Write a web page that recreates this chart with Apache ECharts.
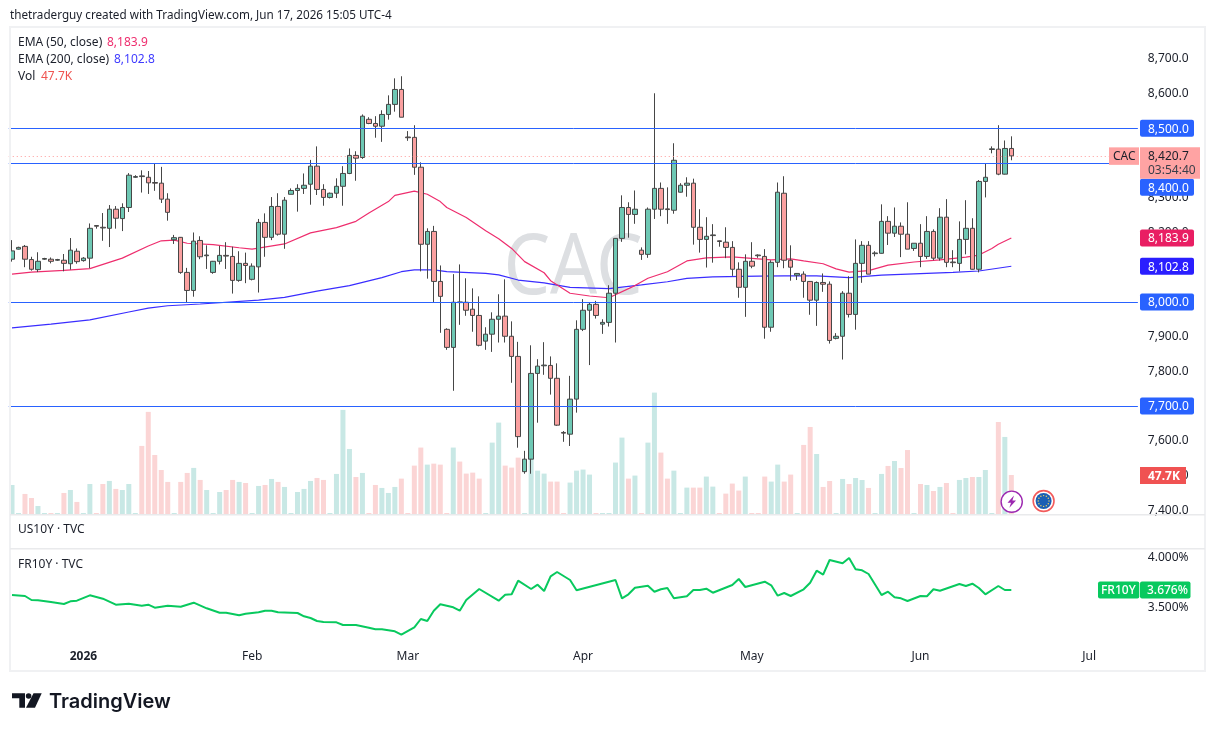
<!DOCTYPE html>
<html>
<head>
<meta charset="utf-8">
<title>CAC daily</title>
<style>html,body{margin:0;padding:0;background:#fff}#chart{width:1215px;height:731px}</style>
<script src="https://cdn.jsdelivr.net/npm/echarts@6/dist/echarts.min.js"></script>
</head>
<body>
<div id="chart"></div>
<script>
// CAC session candles, oldest first
const opens = [8123,8152,8160,8122,8093,8123,8123,8120,8120,8110,8146,8119,8126,8220,8215,8212,8267,8240,8272,8359,8363,8359,8344,8342,8296,8179,8186,8085,8033,8177,8133,8085,8117,8134,8131,8062,8111,8065,8101,8229,8186,8275,8195,8310,8321,8327,8339,8391,8324,8301,8313,8333,8370,8422,8416,8526,8514,8506,8540,8569,8612,8475,8474,8388,8166,8203,8059,7921,7869,8000,7999,7979,7961,7887,7907,7950,7959,7901,7843,7511,7547,7794,7816,7817,7780,7624,7619,7720,7921,7976,7993,7936,7941,8025,8183,8272,8252,8149,8137,8267,8327,8268,8264,8316,8336,8342,8215,8180,8191,8176,8172,8157,8094,8042,8117,8135,8131,7927,8114,8313,8120,8077,8080,8059,8005,8056,8051,7895,7901,8025,7964,8111,8163,8139,8140,8232,8198,8218,8195,8154,8169,8131,8203,8126,8244,8115,8111,8180,8212,8094,8347,8439,8440,8368,8442];
const closes = [8147,8157,8123,8094,8117,8125,8117,8122,8111,8149,8116,8126,8212,8218,8213,8267,8241,8272,8365,8361,8361,8343,8342,8296,8258,8185,8085,8033,8175,8130,8135,8117,8134,8132,8062,8111,8105,8103,8229,8186,8275,8195,8293,8321,8327,8336,8391,8324,8301,8313,8333,8370,8422,8414,8535,8514,8506,8540,8569,8612,8532,8473,8388,8166,8203,8059,8016,7869,7999,7998,7976,7961,7875,7907,7950,7959,7901,7843,7612,7547,7794,7815,7818,7780,7645,7622,7720,7921,7976,7993,7961,7941,8025,8183,8272,8252,8267,8137,8267,8327,8267,8266,8408,8336,8342,8215,8180,8189,8193,8174,8157,8094,8042,8117,8103,8133,7927,8114,8316,8120,8100,8082,8059,8005,8056,8051,7889,7901,8025,7964,8111,8163,8080,8141,8232,8198,8218,8195,8152,8169,8131,8203,8126,8244,8114,8113,8180,8212,8094,8347,8359,8441,8368,8442,8420.7];
const lows   = [8116,8151,8100,8090,8086,8121,8111,8118,8088,8093,8110,8116,8097,8211,8176,8158,8211,8204,8259,8357,8315,8311,8320,8285,8234,8167,8081,7999,8015,8123,8095,8081,8108,8095,8024,8058,8054,8062,8027,8130,8178,8191,8153,8310,8260,8311,8280,8308,8277,8298,8299,8277,8368,8349,8412,8512,8473,8461,8525,8548,8532,8464,8366,8088,8067,7999,7911,7862,7744,7934,7960,7914,7872,7862,7856,7883,7883,7767,7580,7505,7505,7652,7790,7733,7643,7597,7585,7681,7916,7818,7952,7908,7929,7883,8173,8185,8225,8121,8127,8239,8247,8225,8254,8315,8303,8165,8142,8099,8113,8159,8126,8075,8012,7957,8097,8127,7894,7914,8100,8097,8061,8063,8012,7963,7931,8029,7880,7892,7834,7955,7920,8055,8080,8131,8139,8164,8187,8129,8152,8147,8100,8124,8120,8119,8100,8100,8088,8137,8093,8085,8301,8428,8365,8367,8408];
const highs  = [8178,8159,8164,8130,8143,8127,8128,8124,8138,8184,8154,8129,8226,8221,8256,8279,8276,8284,8371,8365,8379,8377,8398,8389,8313,8193,8187,8098,8200,8189,8163,8118,8161,8172,8159,8146,8142,8111,8239,8255,8302,8313,8302,8327,8339,8370,8409,8448,8339,8315,8356,8391,8442,8434,8540,8532,8535,8552,8595,8644,8650,8492,8509,8402,8212,8219,8105,7924,8080,8108,8068,8039,8016,7927,7970,8022,8065,7944,7885,7571,7875,7835,7884,7843,7823,7628,7787,7947,8008,7998,8003,7950,8048,8184,8307,8287,8321,8157,8272,8601,8344,8330,8457,8342,8359,8355,8267,8244,8224,8177,8215,8175,8114,8137,8172,8137,8152,8120,8344,8362,8163,8083,8088,8060,8059,8082,8059,7910,8031,8074,8180,8175,8175,8146,8281,8247,8272,8229,8287,8169,8224,8247,8209,8270,8296,8149,8232,8293,8241,8351,8399,8448,8509,8465,8477];
// Session volume, thousands
const volumes = [35.6,1.6,24.7,19.8,10.1,1.6,1.6,1.6,25.9,29.5,15,1.6,36.8,1.6,36.8,40.5,30.8,29.5,36.8,1.6,83,124.3,72,53.8,39.3,1.6,39.3,50.2,56.3,41.7,29.5,1.6,27.1,29.5,41.7,39.3,38,1.6,34.4,35.6,42.9,39.3,33.2,1.6,27.1,30.8,40.5,44.1,41.7,1.6,49,126.7,79.3,45.3,50.2,1.6,35.6,32,25.9,33.2,43.3,1.6,59.1,81,60.3,61.5,60.3,1.6,81,64,49.4,50.6,43.3,1.6,87,111.3,59.1,56.7,68.8,1.6,82.2,53,49.4,39.7,39.7,1.6,38.5,53,54.3,48.2,1.6,1.6,1.6,62.8,93.1,43.3,47,1.6,87,147.7,74.9,43.3,53,1.6,32.4,32.4,32.4,45.8,33.6,1.6,25.1,37.3,28.8,45.8,1.6,1.6,45.8,39.7,60.3,39.7,48.2,1.6,84.2,106,73.2,33.2,40.4,1.6,42.9,36.8,44.1,41.6,32,1.6,49,58.7,64.7,56.2,78,1.6,36.8,35.6,28.3,33.2,38,1.6,41.7,44.1,45.3,45.3,53.8,1.6,112,93.9,47.7];

// Moving averages, read at the bar positions listed in the *At arrays
const ema50At   = [0,3,8,12,17,21,23,25,27,31,35,37,42,46,50,53,55,58,59,62,64,66,67,70,73,75,77,79,82,83,86,89,92,96,98,101,104,107,111,115,117,120,122,125,127,129,132,135,139,143,147,149,151,152,154];
const ema50     = [8080,8086,8091,8096,8126,8161,8176,8178,8169,8165,8156,8152,8167,8199,8214,8232,8256,8289,8307,8319,8310,8289,8272,8243,8205,8182,8154,8116,8084,8061,8025,8017,8012,8047,8068,8087,8118,8127,8130,8124,8121,8124,8118,8110,8095,8086,8090,8106,8115,8121,8129,8135,8154,8166,8183.9];
const ema200At  = [0,6,12,18,21,24,29,38,42,47,52,57,60,62,65,67,73,75,78,82,86,92,97,101,104,108,115,119,124,129,134,139,145,149,154];
const ema200    = [7925,7936,7948,7971,7982,7989,7994,8005,8013,8031,8047,8070,8087,8092,8092,8087,8082,8078,8063,8055,8042,8038,8049,8058,8068,8072,8074,8075,8075,8070,8077,8081,8085,8089,8102.8];

// French 10-year yield, percent
const fr10yAt = [0,2,3,4,6,8,9,10,12,14,16,18,20,21,22,24,26,28,30,32,33,35,36,38,39,40,41,44,45,46,47,48,50,51,53,55,56,57,59,60,62,63,64,65,66,68,69,70,72,75,76,77,78,80,81,82,83,84,86,87,93,94,95,96,98,99,100,101,102,104,105,106,107,108,111,112,113,116,117,118,119,120,122,123,124,125,126,128,129,130,131,132,134,135,136,137,138,140,141,142,143,146,147,148,149,150,152,153,154];
const fr10y   = [3.625,3.615,3.575,3.572,3.555,3.535,3.562,3.568,3.622,3.588,3.528,3.538,3.518,3.528,3.498,3.518,3.508,3.548,3.492,3.448,3.448,3.422,3.438,3.452,3.468,3.468,3.452,3.445,3.412,3.395,3.365,3.355,3.352,3.325,3.325,3.298,3.282,3.282,3.262,3.228,3.302,3.385,3.365,3.468,3.532,3.502,3.468,3.575,3.685,3.568,3.628,3.632,3.768,3.685,3.728,3.665,3.812,3.855,3.775,3.672,3.775,3.592,3.632,3.698,3.718,3.658,3.682,3.695,3.592,3.612,3.675,3.675,3.688,3.648,3.725,3.785,3.705,3.758,3.722,3.618,3.645,3.615,3.682,3.748,3.868,3.828,3.975,3.942,3.995,3.882,3.872,3.835,3.625,3.658,3.602,3.592,3.565,3.615,3.612,3.682,3.668,3.735,3.715,3.738,3.695,3.632,3.715,3.675,3.676];

// Horizontal levels and the time axis
const levels = [8500, 8400, 8000, 7700];
const lastPrice = 8420.7;
const ema50Last = 8183.9;
const ema200Last = 8102.8;
const timeLabels = ['2026','Feb','Mar','Apr','May','Jun','Jul'];
const timeAt = [11,37,61,88,114,140,166];
const slotCount = 174;

const FONT = '"Noto Sans", Roboto, sans-serif';
const INK = '#1b1f2a';
const BLUE = '#2962FF';
const price = v => v.toLocaleString('en-US', {minimumFractionDigits: 1, maximumFractionDigits: 1});

const slots = Array.from({length: slotCount}, (_, i) => String(i));
const plotLeft = 8.76, plotWidth = 1129.1;
const baseX = {type: 'category', data: slots, boundaryGap: true, axisLine: {show: false}, axisTick: {show: false}, axisLabel: {show: false}, splitLine: {show: false}};

const chart = echarts.init(document.getElementById('chart'), null, {renderer: 'canvas'});

chart.setOption({
  animation: false,
  backgroundColor: '#ffffff',
  textStyle: {fontFamily: FONT},
  grid: [
    {left: plotLeft, width: plotWidth, top: 58.9, height: 451.3},
    {left: plotLeft, width: plotWidth, top: 380, height: 134.3},
    {left: plotLeft, width: plotWidth, top: 557.5, height: 100},
    {left: plotLeft, width: plotWidth, top: 640, height: 10}
  ],
  xAxis: [
    Object.assign({gridIndex: 0}, baseX),
    Object.assign({gridIndex: 1}, baseX),
    Object.assign({gridIndex: 2}, baseX),
    Object.assign({}, baseX, {
      gridIndex: 3,
      axisLabel: {
        show: true, margin: 1, fontSize: 12, color: INK, fontFamily: FONT, hideOverlap: false,
        interval: i => timeAt.includes(i),
        formatter: (v, i) => {
          const k = timeAt.indexOf(i);
          if (k < 0) return '';
          return timeLabels[k] === '2026' ? '{year|2026}' : timeLabels[k];
        },
        rich: {year: {fontWeight: 'bold', fontSize: 12, color: INK, fontFamily: FONT}}
      }
    })
  ],
  yAxis: [
    {
      gridIndex: 0, position: 'right', min: 7400, max: 8700, interval: 100,
      axisLine: {show: false}, axisTick: {show: false}, splitLine: {show: false},
      axisLabel: {margin: 10, fontSize: 12, color: INK, fontFamily: FONT, formatter: v => price(v)}
    },
    {gridIndex: 1, position: 'right', min: 0, max: 163, show: false, splitLine: {show: false}},
    {
      gridIndex: 2, position: 'right', min: 3, max: 4, interval: 0.5,
      axisLine: {show: false}, axisTick: {show: false}, splitLine: {show: false},
      axisLabel: {margin: 10, fontSize: 12, color: INK, fontFamily: FONT, formatter: v => v === 3 ? '' : v.toFixed(3) + '%'}
    },
    {gridIndex: 3, show: false}
  ],
  series: [
    {
      name: 'Vol', type: 'bar', xAxisIndex: 1, yAxisIndex: 1, barWidth: 5, z: 1,
      data: volumes.map((v, i) => ({
        value: v,
        itemStyle: {color: closes[i] >= opens[i] ? '#C8E8E5' : '#FBD5D5'}
      }))
    },
    {
      name: 'Levels', type: 'line', xAxisIndex: 0, yAxisIndex: 0, z: 2, symbol: 'none',
      data: [[0, lastPrice]], lineStyle: {opacity: 0},
      markLine: {
        silent: true, symbol: 'none', label: {show: false}, animation: false,
        data: levels.map(v => ({yAxis: v, lineStyle: {color: BLUE, width: 1, type: 'solid'}}))
          .concat([{yAxis: lastPrice, lineStyle: {color: '#FF9A9A', width: 1, type: [1, 3]}}])
      }
    },
    {
      name: 'EMA 200', type: 'line', xAxisIndex: 0, yAxisIndex: 0, z: 2, symbol: 'none',
      lineStyle: {color: '#3A2DFF', width: 1.2},
      data: ema200At.map((x, i) => [x, ema200[i]])
    },
    {
      name: 'EMA 50', type: 'line', xAxisIndex: 0, yAxisIndex: 0, z: 2, symbol: 'none',
      lineStyle: {color: '#EE2E6E', width: 1.2},
      data: ema50At.map((x, i) => [x, ema50[i]])
    },
    {
      name: 'CAC', type: 'candlestick', xAxisIndex: 0, yAxisIndex: 0, z: 3, barWidth: 5,
      itemStyle: {color: '#6EC8B4', color0: '#FAA0A0', borderColor: '#464646', borderColor0: '#464646', borderWidth: 1},
      data: opens.map((o, i) => [o, closes[i], lows[i], highs[i]])
    },
    {
      name: 'FR10Y', type: 'line', xAxisIndex: 2, yAxisIndex: 2, z: 3, symbol: 'none',
      lineStyle: {color: '#08C95E', width: 2},
      data: fr10yAt.map((x, i) => [x, fr10y[i]])
    }
  ]
});

// Flat text helper for the overlay layer
function label(x, y, text, fill, extra) {
  return {
    type: 'text', x, y: y + 0.5, z: 120,
    style: Object.assign({text, fill, font: '12px ' + FONT, verticalAlign: 'middle', align: 'left'}, extra || {})
  };
}
function box(x, y, w, h, fill, z, r) {
  return {type: 'rect', z: z || 110, shape: {x, y, width: w, height: h, r: r || 0}, style: {fill}};
}
// Value tag on the price scale; tags that would collide sit at a shifted height
function priceTag(value, fill, fg, shiftedY) {
  const y = shiftedY !== undefined ? shiftedY : chart.convertToPixel({yAxisIndex: 0}, value);
  return [box(1140, y - 8.5, 54, 17, fill, 110, 2), label(1148, y + 0.5, price(value), fg)];
}

const yLast = chart.convertToPixel({yAxisIndex: 0}, lastPrice);
const yFr = chart.convertToPixel({yAxisIndex: 2}, fr10y[fr10y.length - 1]);
const frameColor = '#F0F1F3';
const elements = [
  // Large symbol name behind the candles
  {type: 'text', x: 573, y: 270, z: -10, scaleX: 0.88, originX: 0, originY: 0,
   style: {text: 'CAC', fill: '#DDDFE2', font: '84px ' + FONT, align: 'center', verticalAlign: 'middle'}},

  // Pane frame and separators
  box(9, 26, 1197, 2, frameColor), box(9, 26, 2, 646, frameColor),
  box(1204, 26, 2, 646, frameColor), box(9, 670, 1197, 2, frameColor),
  box(10, 514, 1195, 1.5, '#E9EAEC'), box(10, 548, 1195, 1.5, '#E9EAEC'),
  // Tidy strip right of the plot so levels stop at the scale
  box(1138.8, 28, 1.2, 486, '#ffffff', 105),

  // Header and pane legends
  label(10, 15, 'thetraderguy created with TradingView.com, Jun 17, 2026 15:05 UTC-4', INK, {font: '11.7px ' + FONT}),
  label(18, 42, 'EMA (50, close)', INK), label(107, 42, price(ema50Last), '#EE2E6E'),
  label(18, 59, 'EMA (200, close)', INK), label(114, 59, price(ema200Last), '#3F3BFF'),
  label(18, 76, 'Vol', INK), label(41, 76, volumes[volumes.length - 1] + 'K', '#EF5350'),
  label(18, 529, 'US10Y \u00b7 TVC', INK),
  label(18, 564, 'FR10Y \u00b7 TVC', INK),

  // Price scale tags
  ...priceTag(levels[0], BLUE, '#ffffff'),
  ...priceTag(levels[1], BLUE, '#ffffff', 187.3),
  ...priceTag(levels[2], BLUE, '#ffffff'),
  ...priceTag(levels[3], BLUE, '#ffffff'),
  ...priceTag(ema50Last, '#E91E63', '#ffffff'),
  ...priceTag(ema200Last, '#2A1EFF', '#ffffff'),

  // Symbol tag with last price and countdown
  box(1109, yLast - 8.5, 30, 17.5, '#FFA3A3'), label(1113, yLast + 0.5, 'CAC', INK),
  box(1140, yLast - 8.5, 60, 31.5, '#FFA3A3', 112), label(1148, yLast + 0.5, price(lastPrice), INK),
  label(1148, yLast + 14.5, '03:54:40', '#3a3f4a'),

  // Volume tag
  box(1140, 467, 46, 17, '#F05252'),
  label(1148, 476, volumes[volumes.length - 1] + 'K', '#ffffff', {font: 'bold 12px ' + FONT}),

  // Yield tag
  box(1098, yFr - 8.5, 41.3, 17, '#08C95E', 110, 2), label(1101, yFr + 0.5, 'FR10Y', '#ffffff', {font: '500 12px ' + FONT}),
  box(1140, yFr - 8.5, 50.5, 17, '#08C95E', 110, 2), label(1147, yFr + 0.5, fr10y[fr10y.length - 1].toFixed(3) + '%', '#ffffff', {font: '500 12px ' + FONT}),

  // Event markers on the time base
  {type: 'circle', z: 115, shape: {cx: 1011.7, cy: 501.7, r: 10.6}, style: {fill: '#fff', stroke: '#9C27B0', lineWidth: 1.4}},
  {type: 'polygon', z: 116, shape: {points: [[1014, 495.5], [1007.5, 502.8], [1011, 502.8], [1009.4, 507.8], [1016, 500.4], [1012.4, 500.4]]}, style: {fill: '#9C27B0'}},
  {type: 'circle', z: 115, shape: {cx: 1043.6, cy: 501, r: 10.4}, style: {fill: '#fff', stroke: '#F25B5B', lineWidth: 1.6}},
  {type: 'circle', z: 116, shape: {cx: 1043.6, cy: 501, r: 8}, style: {fill: '#1A5FB4'}},
  ...Array.from({length: 12}, (_, k) => ({
    type: 'circle', z: 117,
    shape: {cx: 1043.6 + 5.4 * Math.cos(k * Math.PI / 6), cy: 501 + 5.4 * Math.sin(k * Math.PI / 6), r: 0.7},
    style: {fill: '#F4D35E'}
  })),

  // Wordmark
  {type: 'polygon', z: 120, shape: {points: [[12, 693.3], [25, 693.3], [25, 707.7], [19.3, 707.7], [19.3, 698.3], [12, 698.3]]}, style: {fill: '#131722'}},
  {type: 'circle', z: 120, shape: {cx: 28.6, cy: 696, r: 2.8}, style: {fill: '#131722'}},
  {type: 'polygon', z: 120, shape: {points: [[33.5, 693.3], [41.7, 693.3], [35, 707.7], [26, 707.7]]}, style: {fill: '#131722'}},
  label(49, 701, 'TradingView', '#131722', {font: '600 20px Inter, Roboto, sans-serif'})
];
chart.setOption({graphic: {elements}});
</script>
</body>
</html>
